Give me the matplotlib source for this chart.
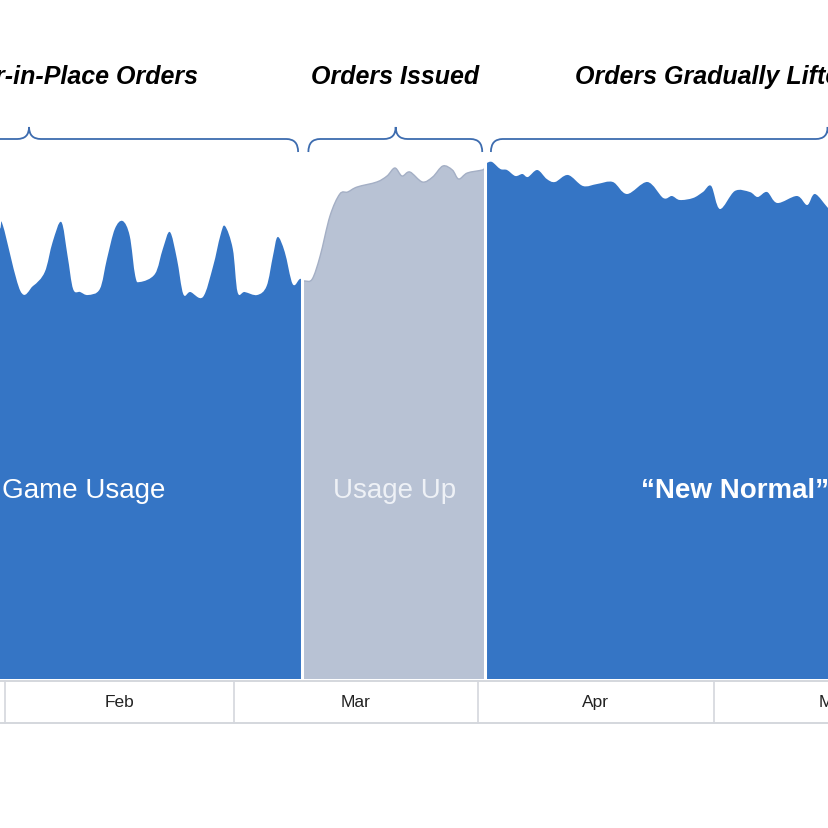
import matplotlib.pyplot as plt
from matplotlib.path import Path
from matplotlib.patches import PathPatch

# days counted from Jan 1 (0), usage index
pre_days = [29.0, 30.3, 30.7, 32.9, 34.5, 36.0, 37.0, 38.1, 38.9, 39.6, 40.5, 41.5,
            43.0, 43.9, 44.9, 45.9, 46.8, 47.5, 48.1, 50.0, 51.0, 51.9, 52.8, 53.6,
            54.5, 56.1, 57.4, 58.3, 58.9, 59.9, 60.5, 61.4, 63.0, 64.2, 65.0, 65.6,
            66.5, 67.5, 68.4, 68.75]
pre_usage = [86.0, 90.0, 90.6, 77.6, 78.6, 81.4, 87.4, 91.4, 84.6, 78.0, 77.4, 76.8,
             78.0, 84.0, 90.0, 91.6, 88.6, 80.6, 79.4, 81.0, 86.0, 89.4, 84.0, 77.0,
             77.4, 76.4, 82.6, 88.6, 90.6, 86.0, 77.4, 77.4, 76.8, 78.6, 84.6, 88.4,
             85.4, 79.0, 80.0, 79.8]

surge_days = [68.75, 69.1, 70.0, 71.0, 72.25, 73.5, 74.5, 75.7, 78.2, 79.5, 80.5, 81.4,
              82.4, 84.0, 85.3, 86.6, 87.8, 88.6, 89.7, 91.6, 91.9]
surge_usage = [79.8, 79.6, 80.0, 84.6, 92.6, 97.0, 97.4, 98.4, 99.4, 100.6, 102.2, 100.6,
               101.4, 99.4, 100.4, 102.6, 101.8, 100.0, 101.2, 101.8, 102.2]

new_days = [91.9, 92.2, 92.85, 93.9, 94.75, 95.8, 96.7, 97.4, 98.6, 99.8, 100.85, 102.5,
            104.4, 106.2, 108.2, 110.0, 112.6, 114.6, 115.7, 116.7, 118.4, 119.65, 120.7,
            121.8, 123.7, 125.6, 126.6, 127.8, 129.1, 131.6, 132.9, 133.9, 135.7, 137.1]
new_usage = [102.6, 103.2, 103.4, 102.0, 101.8, 100.6, 101.0, 100.4, 101.8, 100.0, 99.4, 100.8,
             98.6, 99.0, 99.4, 97.0, 99.4, 96.2, 96.6, 95.8, 96.2, 97.4, 98.6,
             94.0, 97.6, 97.4, 96.4, 97.4, 95.2, 96.6, 94.8, 97.0, 94.0, 93.2]

month_names = ['Jan', 'Feb', 'Mar', 'Apr', 'May']
month_starts = [0, 31, 60, 91, 121, 152]

phase_titles = ['Shelter-in-Place Orders', 'Orders Issued', 'Orders Gradually Lifted']
phase_labels = ['Normal Game Usage', 'Usage Up', '\u201cNew Normal\u201d']

blue = '#3575c5'
grey = '#b8c2d4'
brace_col = '#3d6caf'
strip_col = '#d4d7dd'
font = 'Liberation Sans'

fig = plt.figure(figsize=(8.29, 8.29), dpi=100)
ax = fig.add_axes([0, 0, 1, 1])
ax.set_xlim(30.31, 135.67)
ax.set_ylim(-29.8, 136)
ax.axis('off')


def smooth_area(xs, ys, color, edge=None):
    # smooth curve through the points (Catmull-Rom as Bezier), closed down to 0
    n = len(xs)
    verts = [(xs[0], 0), (xs[0], ys[0])]
    codes = [Path.MOVETO, Path.LINETO]
    for i in range(n - 1):
        p0 = (xs[max(i - 1, 0)], ys[max(i - 1, 0)])
        p1 = (xs[i], ys[i])
        p2 = (xs[i + 1], ys[i + 1])
        p3 = (xs[min(i + 2, n - 1)], ys[min(i + 2, n - 1)])
        c1 = (p1[0] + (p2[0] - p0[0]) / 6, p1[1] + (p2[1] - p0[1]) / 6)
        c2 = (p2[0] - (p3[0] - p1[0]) / 6, p2[1] - (p3[1] - p1[1]) / 6)
        verts += [c1, c2, p2]
        codes += [Path.CURVE4] * 3
    top = list(verts[1:])
    top_codes = [Path.MOVETO] + codes[2:]
    verts += [(xs[-1], 0), (xs[0], 0)]
    codes += [Path.LINETO, Path.CLOSEPOLY]
    ax.add_patch(PathPatch(Path(verts, codes), fc=color, lw=0))
    if edge:
        ax.add_patch(PathPatch(Path(top, top_codes), fill=False, ec=edge, lw=1))


smooth_area(pre_days, pre_usage, blue)
smooth_area(surge_days, surge_usage, grey, edge='#a4afc5')
smooth_area(new_days, new_usage, blue)

# white gaps between phases
for d, v in [(pre_days[-1], pre_usage[-1]), (new_days[0], new_usage[0])]:
    ax.plot([d, d], [0, v + 0.8], color='white', lw=2.2, solid_capstyle='butt')

# month strip
ax.axhline(-0.3, color=strip_col, lw=1.4)
ax.axhline(-8.8, color=strip_col, lw=1.4)
for m in month_starts:
    ax.plot([m, m], [-0.3, -8.8], color=strip_col, lw=1.2)
for i, name in enumerate(month_names):
    mid = (month_starts[i] + month_starts[i + 1]) / 2
    ax.text(mid, -4.6, name, ha='center', va='center', fontsize=12.5,
            color='#222222', family=font)


def brace(x0, xm, x1, y, up=2.4, down=2.6, r=1.5):
    verts = [(x0, y - down), (x0, y), (x0 + r, y), (xm - r, y), (xm, y), (xm, y + up),
             (xm, y), (xm + r, y), (x1 - r, y), (x1, y), (x1, y - down)]
    codes = [Path.MOVETO, Path.CURVE3, Path.CURVE3, Path.LINETO, Path.CURVE3, Path.CURVE3,
             Path.CURVE3, Path.CURVE3, Path.LINETO, Path.CURVE3, Path.CURVE3]
    ax.add_patch(PathPatch(Path(verts, codes), fill=False, ec=brace_col, lw=1.3))


brace(0.1, 34.0, 68.2, 108)
brace(69.5, 80.6, 91.6, 108)
brace(92.7, 135.5, 178.3, 108)

# phase titles
title_kw = dict(fontsize=18, fontweight='bold', style='italic', family=font,
                color='black', va='center')
ax.text(55.5, 120.6, phase_titles[0], ha='right', **title_kw)
ax.text(80.5, 120.6, phase_titles[1], ha='center', **title_kw)
ax.text(103.4, 120.6, phase_titles[2], ha='left', **title_kw)

# phase labels
ax.text(51.3, 37.8, phase_labels[0], ha='right', va='center', fontsize=20,
        color='white', family=font)
ax.text(80.4, 37.8, phase_labels[1], ha='center', va='center', fontsize=20,
        color='#eef1f6', family=font)
ax.text(111.8, 37.8, phase_labels[2], ha='left', va='center', fontsize=20,
        fontweight='bold', color='white', family=font)

fig.savefig('out.png', dpi=100)
